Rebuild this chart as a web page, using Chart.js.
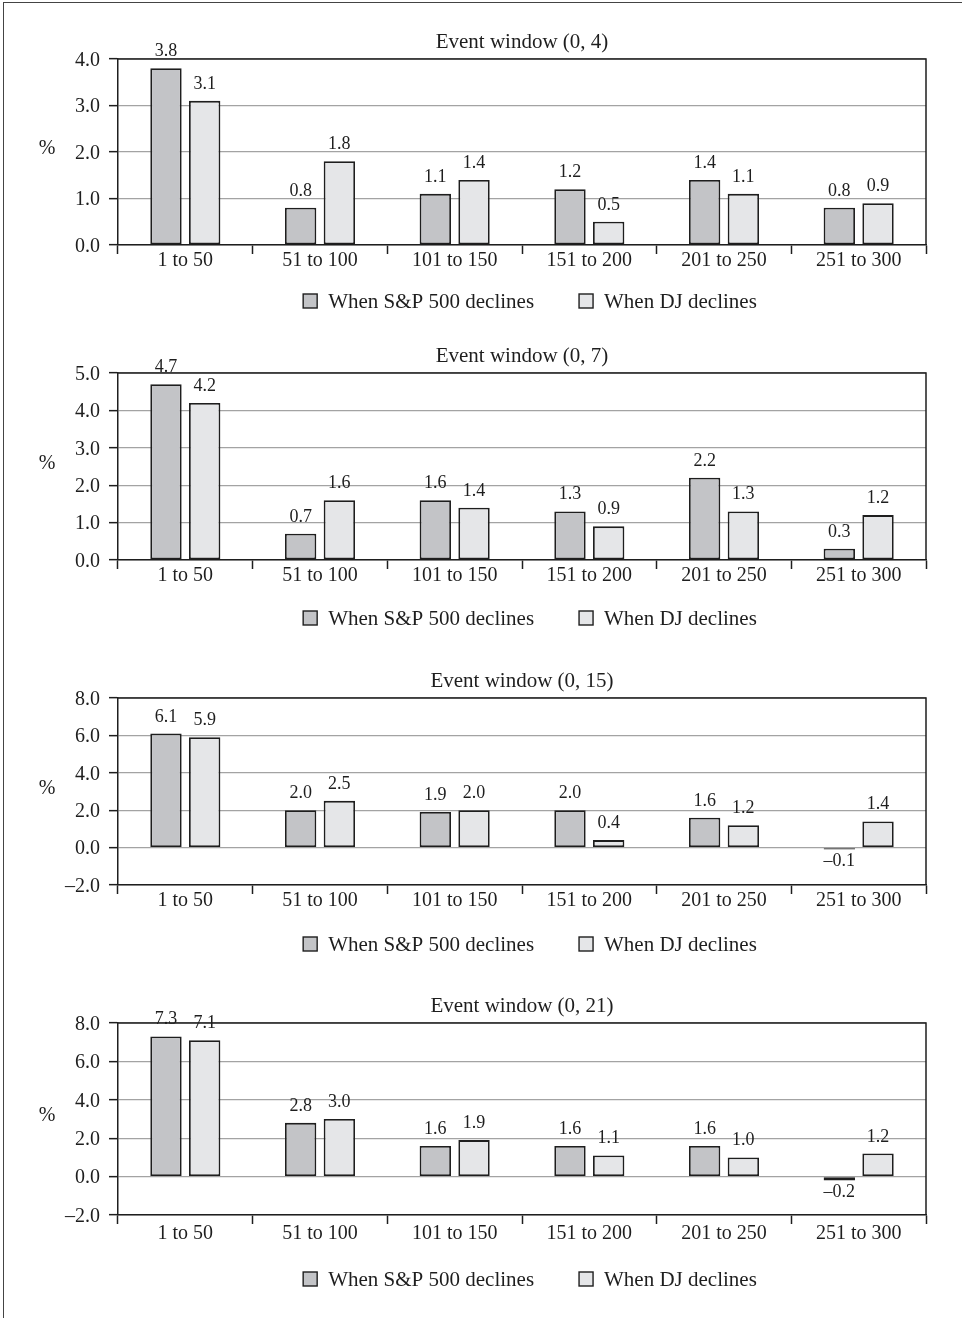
<!DOCTYPE html>
<html>
<head>
<meta charset="utf-8">
<script src="https://cdn.jsdelivr.net/npm/chart.js@4.4.0/dist/chart.umd.min.js"></script>
<style>
  html, body { margin: 0; padding: 0; background: #fff; }
  body { width: 962px; height: 1318px; position: relative; overflow: hidden; }
  #frame { position: absolute; left: 3px; top: 2px; right: -10px; bottom: -10px;
           border-left: 1.5px solid #444; border-top: 1.5px solid #444; }
  canvas { position: absolute; left: 0; }
</style>
</head>
<body>
<div id="frame"></div>
<canvas id="c1" width="962" height="325" style="top:0px"></canvas>
<canvas id="c2" width="962" height="326" style="top:314px"></canvas>
<canvas id="c3" width="962" height="326" style="top:639px"></canvas>
<canvas id="c4" width="962" height="331" style="top:964px"></canvas>
<script>
const categories = ["1 to 50", "51 to 100", "101 to 150", "151 to 200", "201 to 250", "251 to 300"];
const seriesNames = ["When S&P 500 declines", "When DJ declines"];

// event window (0, 4)
const sp4 = [3.8, 0.8, 1.1, 1.2, 1.4, 0.8];
const dj4 = [3.1, 1.8, 1.4, 0.5, 1.1, 0.9];
// event window (0, 7)
const sp7 = [4.7, 0.7, 1.6, 1.3, 2.2, 0.3];
const dj7 = [4.2, 1.6, 1.4, 0.9, 1.3, 1.2];
// event window (0, 15)
const sp15 = [6.1, 2.0, 1.9, 2.0, 1.6, -0.1];
const dj15 = [5.9, 2.5, 2.0, 0.4, 1.2, 1.4];
// event window (0, 21)
const sp21 = [7.3, 2.8, 1.6, 1.6, 1.6, -0.2];
const dj21 = [7.1, 3.0, 1.9, 1.1, 1.0, 1.2];

const yMins = [0, 0, -2, -2];
const yMaxs = [4, 5, 8, 8];
const ySteps = [1, 1, 2, 2];

const FONT = "'Liberation Serif', 'Times New Roman', serif";
const INK = "#1e1e1e";
const GRID = "#a3a3a3";
const DARK_FILL = "#c3c4c7";
const LIGHT_FILL = "#e5e6e8";

Chart.defaults.font.family = FONT;
Chart.defaults.color = INK;

function fmt(v) {
  return (v < 0 ? "\u2013" : "") + Math.abs(v).toFixed(1);
}

// top and right edges of the plot box
const frameLines = {
  id: "frameLines",
  afterDatasetsDraw(chart) {
    const a = chart.chartArea;
    const ctx = chart.ctx;
    ctx.save();
    ctx.strokeStyle = INK;
    ctx.lineWidth = 1.5;
    ctx.beginPath();
    ctx.moveTo(a.left, a.top);
    ctx.lineTo(a.right, a.top);
    ctx.lineTo(a.right, a.bottom);
    ctx.stroke();
    ctx.restore();
  }
};

const valueLabels = {
  id: "valueLabels",
  afterDatasetsDraw(chart) {
    const ctx = chart.ctx;
    ctx.save();
    ctx.font = "18px " + FONT;
    ctx.fillStyle = INK;
    ctx.textAlign = "center";
    chart.data.datasets.forEach((ds, i) => {
      chart.getDatasetMeta(i).data.forEach((bar, j) => {
        const v = ds.data[j];
        if (v < 0) {
          ctx.textBaseline = "top";
          ctx.fillText(fmt(v), bar.x, bar.y + 3);
        } else {
          ctx.textBaseline = "alphabetic";
          ctx.fillText(fmt(v), bar.x, bar.y - 12);
        }
      });
    });
    ctx.restore();
  }
};

const percentSign = {
  id: "percentSign",
  afterDraw(chart) {
    const a = chart.chartArea;
    const ctx = chart.ctx;
    ctx.save();
    ctx.font = "20px " + FONT;
    ctx.fillStyle = INK;
    ctx.textAlign = "center";
    ctx.textBaseline = "middle";
    ctx.fillText("%", a.left - 71, (a.top + a.bottom) / 2 - 3);
    ctx.restore();
  }
};

const boxLegend = {
  id: "boxLegend",
  afterDraw(chart, args, opts) {
    const a = chart.chartArea;
    const ctx = chart.ctx;
    ctx.save();
    ctx.font = "21px " + FONT;
    const box = 14, gap = 11, between = 45;
    const items = chart.data.datasets.map((ds) => ({
      label: ds.label,
      fill: ds.backgroundColor,
      w: ctx.measureText(ds.label).width
    }));
    const total = items.reduce((s, it) => s + box + gap + it.w, 0) + between * (items.length - 1);
    let x = (a.left + a.right) / 2 + 8 - total / 2;
    const y = a.bottom + opts.offset;
    items.forEach((it) => {
      ctx.fillStyle = it.fill;
      ctx.fillRect(x, y - box / 2, box, box);
      ctx.strokeStyle = INK;
      ctx.lineWidth = 1.4;
      ctx.strokeRect(x, y - box / 2, box, box);
      ctx.fillStyle = INK;
      ctx.textAlign = "left";
      ctx.textBaseline = "middle";
      ctx.fillText(it.label, x + box + gap, y + 1);
      x += box + gap + it.w + between;
    });
    ctx.restore();
  }
};

function makeChart(id, title, sp, dj, k, legendOffset, labelPad) {
  const ctx = document.getElementById(id).getContext("2d");
  return new Chart(ctx, {
    type: "bar",
    data: {
      labels: categories,
      datasets: [
        { label: seriesNames[0], data: sp, backgroundColor: DARK_FILL },
        { label: seriesNames[1], data: dj, backgroundColor: LIGHT_FILL }
      ]
    },
    options: {
      responsive: false,
      animation: false,
      devicePixelRatio: 1,
      layout: { padding: { top: 30, right: 36, bottom: 50, left: 0 } },
      datasets: {
        bar: {
          borderColor: INK,
          borderWidth: 1.8,
          borderSkipped: false,
          categoryPercentage: 0.575,
          barPercentage: 0.81
        }
      },
      plugins: {
        legend: { display: false },
        tooltip: { enabled: false },
        title: {
          display: true,
          text: title,
          fullSize: false,
          color: INK,
          font: { size: 21, weight: "normal", family: FONT },
          padding: { top: 0, bottom: 3.8 }
        },
        boxLegend: { offset: legendOffset }
      },
      scales: {
        x: {
          afterFit(scale) { scale.height = 30; },
          grid: {
            display: true,
            drawOnChartArea: false,
            drawTicks: true,
            tickLength: 9,
            tickColor: INK,
            tickWidth: 1.5
          },
          border: { display: true, color: INK, width: 1.5 },
          ticks: { color: INK, padding: labelPad, font: { size: 20, family: FONT }, maxRotation: 0 }
        },
        y: {
          min: yMins[k],
          max: yMaxs[k],
          afterFit(scale) { scale.width = 118; },
          grid: {
            color: GRID,
            lineWidth: 1.3,
            drawTicks: true,
            tickLength: 9,
            tickColor: INK,
            tickWidth: 1.5
          },
          border: { display: true, color: INK, width: 1.5 },
          ticks: {
            stepSize: ySteps[k],
            padding: 9,
            labelOffset: 1.5,
            color: INK,
            font: { size: 20, family: FONT },
            callback: (v) => fmt(v)
          }
        }
      }
    },
    plugins: [frameLines, valueLabels, percentSign, boxLegend]
  });
}

makeChart("c1", "Event window (0, 4)", sp4, dj4, 0, 56, -5);
makeChart("c2", "Event window (0, 7)", sp7, dj7, 1, 58, -5);
makeChart("c3", "Event window (0, 15)", sp15, dj15, 2, 59, -5);
makeChart("c4", "Event window (0, 21)", sp21, dj21, 3, 64, -2);
</script>
</body>
</html>
